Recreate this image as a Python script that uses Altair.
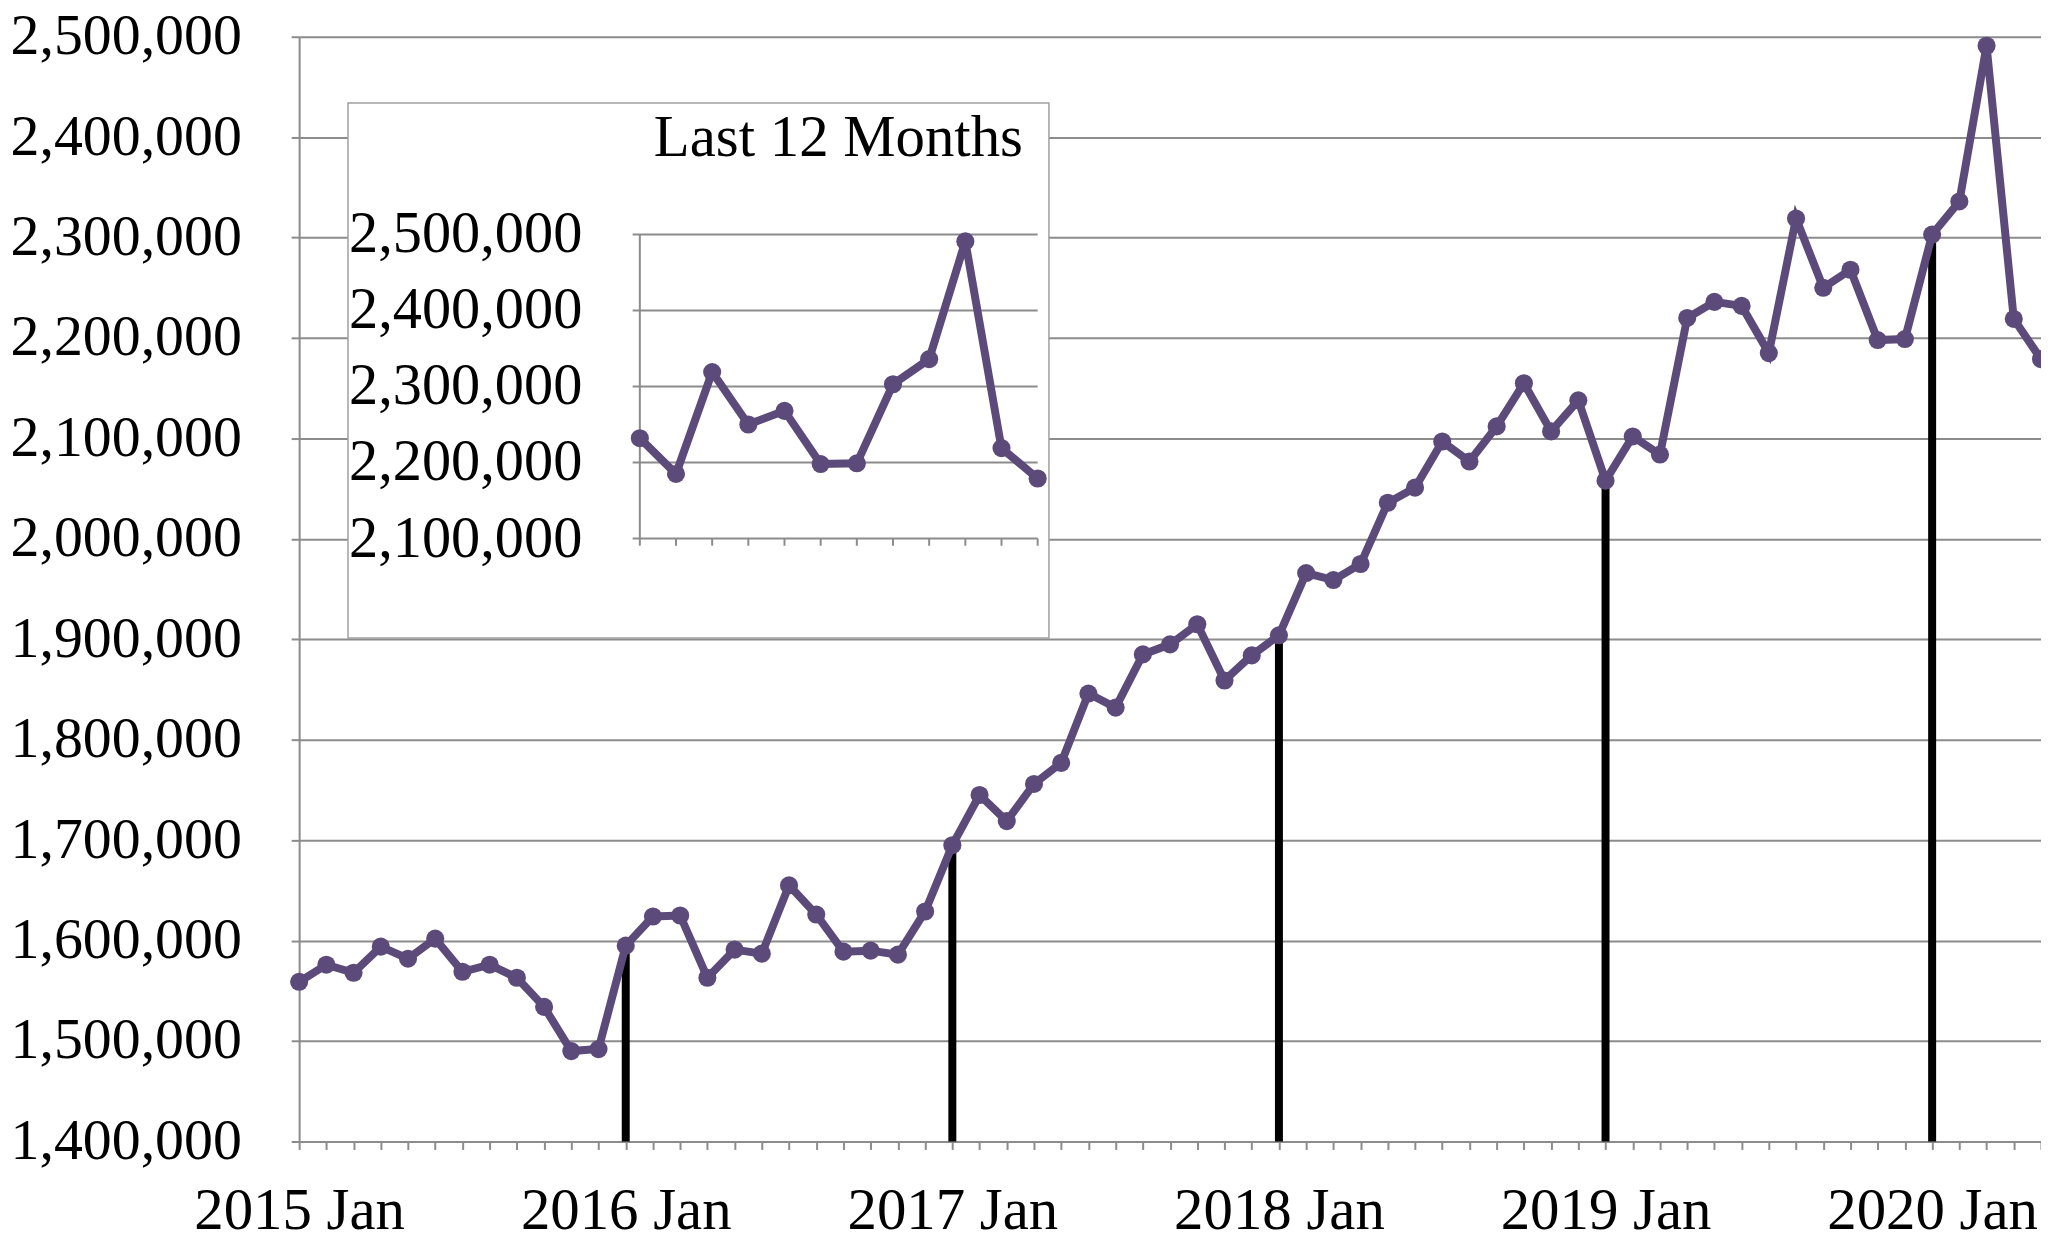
import altair as alt
import pandas as pd

# ---- data ----
years = [2015, 2016, 2017, 2018, 2019, 2020]
month_names = ["Jan", "Feb", "Mar", "Apr", "May", "Jun",
               "Jul", "Aug", "Sep", "Oct", "Nov", "Dec"]
values = [
    1559000, 1576000, 1568000, 1594000, 1582000, 1602000,
    1569000, 1576000, 1563000, 1534000, 1490000, 1492000,   # 2015
    1595000, 1624000, 1625000, 1563000, 1591000, 1587000,
    1655000, 1626000, 1589000, 1590000, 1586000, 1629000,   # 2016
    1695000, 1745000, 1719000, 1756000, 1777000, 1846000,
    1832000, 1885000, 1895000, 1915000, 1859000, 1884000,   # 2017
    1904000, 1966000, 1959000, 1975000, 2036000, 2051000,
    2097000, 2077000, 2112000, 2155000, 2107000, 2138000,   # 2018
    2058000, 2102000, 2084000, 2220000, 2236000, 2232000,
    2185000, 2319000, 2250000, 2268000, 2198000, 2199000,   # 2019
    2303000, 2336000, 2491000, 2219000, 2179000,            # 2020
]
y_ticks = [1400000, 1500000, 1600000, 1700000, 1800000, 1900000,
           2000000, 2100000, 2200000, 2300000, 2400000, 2500000]
inset_ticks = [2100000, 2200000, 2300000, 2400000, 2500000]
inset_title = "Last 12 Months"

periods = [f"{y} {m}" for y in years for m in month_names][:len(values)]

df = pd.DataFrame({"period": periods, "value": values})
drops = df[df["period"].str.endswith("Jan") & ~df["period"].str.startswith("2015")].copy()
drops["base"] = 1400000
inset_df = pd.DataFrame({"i": list(range(12)), "value": values[-12:]})
inset_tick_df = pd.DataFrame({"t": inset_ticks})
one = pd.DataFrame({"k": [0]})

FONT = "Liberation Serif"
GRAY = "#8c8c8c"
PURPLE = "#5c4b7a"
TOP = 27          # plot top offset inside the svg
SHIFT = TOP - 25  # keep inset at its page position

# ---- main chart ----
x_main = alt.X(
    "period:O", sort=periods,
    scale=alt.Scale(type="point", padding=0),
    axis=alt.Axis(
        title=None, labelAngle=0, grid=False,
        labelExpr="indexof(datum.label, 'Jan') >= 0 ? datum.label : ''",
        labelOverlap=False, labelFlush=False, labelLimit=1000,
        labelFont=FONT, labelFontSize=59, labelColor="black",
        labelBaseline="alphabetic", labelPadding=79,
        tickSize=8, tickColor=GRAY, tickWidth=2,
        domainColor=GRAY, domainWidth=2,
    ),
)
y_main = alt.Y(
    "value:Q",
    scale=alt.Scale(domain=[1400000, 2500000], nice=False, zero=False),
    axis=alt.Axis(
        title=None, values=y_ticks, format=",d", labelLimit=1000,
        labelFont=FONT, labelFontSize=58, labelColor="black",
        labelPadding=50, tickSize=8, tickColor=GRAY, tickWidth=2,
        domainColor=GRAY, domainWidth=2,
        gridColor=GRAY, gridWidth=2,
    ),
)

base = alt.Chart(df).encode(x=x_main, y=y_main)
drop_rules = alt.Chart(drops).mark_rule(color="black", strokeWidth=8).encode(
    x=x_main, y=y_main, y2="base:Q"
)
line = base.mark_line(color=PURPLE, strokeWidth=8)
pts = base.mark_circle(color=PURPLE, size=330, opacity=1)
border = alt.Chart(one).mark_rule(color="#999999", strokeWidth=2).encode(
    x=alt.value(-295), y=alt.value(-40), y2=alt.value(1215)
)
main = alt.layer(drop_rules, line, pts, border)

# ---- inset ----
ix = alt.Scale(domain=[0, 11], range=[341.7, 740.7])
iy = alt.Scale(domain=[2100000, 2500000], range=[505.3 - SHIFT, 200.3 - SHIFT],
               nice=False, zero=False)

box = alt.Chart(one).mark_rect(fill="white", stroke="#a0a0a0", strokeWidth=1.5).encode(
    x=alt.value(49), x2=alt.value(752), y=alt.value(68.5 - SHIFT), y2=alt.value(605 - SHIFT)
)
igrid = alt.Chart(inset_tick_df).mark_rule(color=GRAY, strokeWidth=2).encode(
    y=alt.Y("t:Q", scale=iy, axis=None), x=alt.value(334.5), x2=alt.value(740.7)
)
iaxis = alt.Chart(one).mark_rule(color=GRAY, strokeWidth=2).encode(
    x=alt.value(341.7), y=alt.value(200.3 - SHIFT), y2=alt.value(505.3 - SHIFT)
)
ixticks = alt.Chart(inset_df).mark_rule(color=GRAY, strokeWidth=2).encode(
    x=alt.X("i:Q", scale=ix, axis=None), y=alt.value(505.3 - SHIFT), y2=alt.value(512.5 - SHIFT)
)
ibase = alt.Chart(inset_df).encode(
    x=alt.X("i:Q", scale=ix, axis=None), y=alt.Y("value:Q", scale=iy, axis=None)
)
iline = ibase.mark_line(color=PURPLE, strokeWidth=8)
ipts = ibase.mark_circle(color=PURPLE, size=330, opacity=1)
ilabels = alt.Chart(inset_tick_df).mark_text(
    align="right", baseline="middle", font=FONT, fontSize=58.5, color="black"
).encode(
    y=alt.Y("t:Q", scale=iy, axis=None), x=alt.value(284),
    text=alt.Text("t:Q", format=",d")
)
ititle = alt.Chart(one).mark_text(
    align="right", baseline="alphabetic", font=FONT, fontSize=59, color="black"
).encode(x=alt.value(726), y=alt.value(122 - SHIFT), text=alt.value(inset_title))

inset = alt.layer(box, igrid, iaxis, ixticks, iline, ipts, ilabels, ititle)

chart = alt.layer(main, inset).resolve_scale(
    x="independent", y="independent"
).properties(
    width=1747, height=1135 - TOP,
    autosize=alt.AutoSizeParams(type="none"),
    padding={"left": 292, "top": TOP, "right": 0, "bottom": 100},
).configure_view(stroke=GRAY, strokeWidth=2).configure(background="white")

chart.save("out.html", embed_options={"renderer": "svg", "actions": False})
